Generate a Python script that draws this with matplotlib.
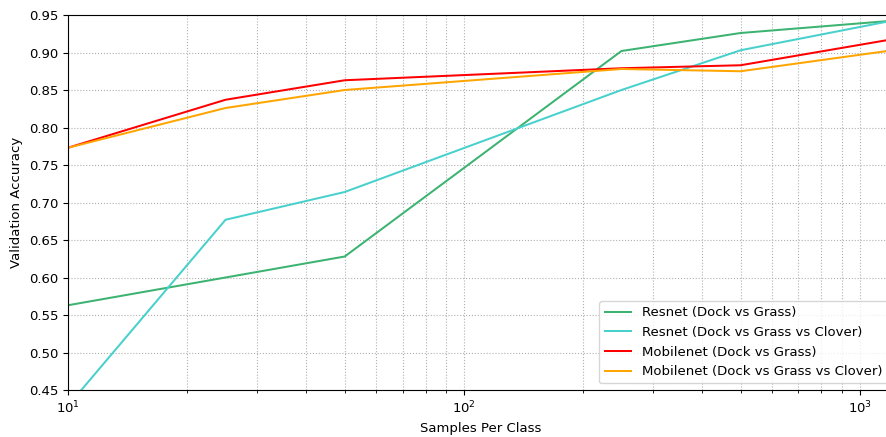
import matplotlib
matplotlib.use("Agg")
import matplotlib.pyplot as plt
import numpy as np

samples = [10, 25, 50, 250, 500, 1250]

resnet_dg = [0.563, 0.600, 0.628, 0.902, 0.926, 0.943]
resnet_dgc = [0.429, 0.677, 0.714, 0.850, 0.903, 0.944]
mobilenet_dg = [0.773, 0.837, 0.863, 0.879, 0.883, 0.919]
mobilenet_dgc = [0.773, 0.826, 0.850, 0.878, 0.875, 0.904]

labels = ["Resnet (Dock vs Grass)",
          "Resnet (Dock vs Grass vs Clover)",
          "Mobilenet (Dock vs Grass)",
          "Mobilenet (Dock vs Grass vs Clover)"]
colors = ["mediumseagreen", "mediumturquoise", "red", "orange"]

plt.rcParams["font.size"] = 9.5

fig = plt.figure(figsize=(8.87, 4.37), dpi=100)
# axes runs a little past the right edge, like the cropped original
ax = fig.add_axes([68 / 887, 47 / 437, (894 - 68) / 887, 375 / 437])

for ys, lab, col in zip([resnet_dg, resnet_dgc, mobilenet_dg, mobilenet_dgc], labels, colors):
    ax.plot(samples, ys, color=col, label=lab, linewidth=1.45)

ax.set_xscale("log")
ax.set_xlim(10, 1220)
ax.set_ylim(0.45, 0.95)
ax.set_yticks(np.arange(0.45, 0.951, 0.05))
ax.yaxis.set_major_formatter(matplotlib.ticker.FormatStrFormatter("%.2f"))
ax.grid(True, which="both", linestyle=":", color="#b0b0b0", linewidth=0.8)
ax.set_xlabel("Samples Per Class")
ax.set_ylabel("Validation Accuracy")
ax.legend(loc="lower right")

fig.savefig("out.png", dpi=100)
